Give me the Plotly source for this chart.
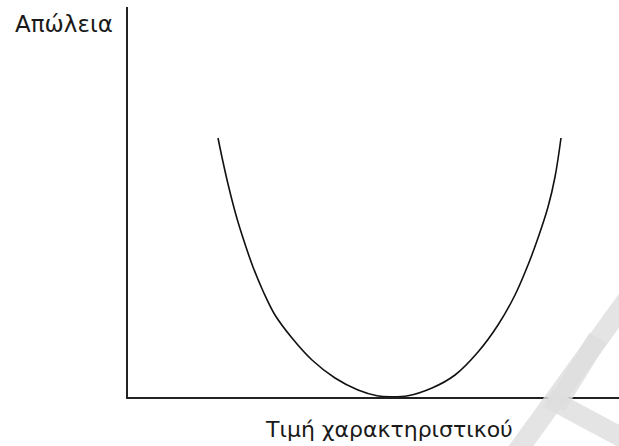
import math
import plotly.graph_objects as go

# Loss curve: characteristic value vs. loss (arbitrary units)
characteristic = [90, 95, 100, 105, 110, 117, 125, 135, 147, 164, 184, 207, 230, 249, 262,
                  280, 304, 327, 350, 370, 387, 400, 410, 420, 427, 433]
loss = [259, 235, 213, 193, 175, 153, 130, 106, 82, 59, 37, 19, 7, 1.3, 0.3,
        1.3, 9, 22, 45, 72, 102, 132, 159, 190, 220, 259]

y_label = "Απώλεια"
x_label = "Τιμή χαρακτηριστικού"

W, H = 619, 446
L, R, T, B = 128, 0, 7, 49
pw, ph = W - L - R, H - T - B


def px(x):
    return (x - L) / pw


def py(y):
    return (H - B - y) / ph


fig = go.Figure()
fig.add_trace(go.Scatter(
    x=characteristic, y=loss, mode="lines",
    line=dict(color="#111111", width=1.6, shape="spline", smoothing=1.0),
    hoverinfo="skip", showlegend=False,
))

axis_common = dict(showgrid=False, zeroline=False, showticklabels=False, ticks="",
                   showline=True, linewidth=2, linecolor="#222222")
fig.update_xaxes(range=[0, pw], **axis_common)
fig.update_yaxes(range=[0, ph], **axis_common)

fig.add_annotation(text=y_label, xref="paper", yref="paper", x=px(115), y=py(24),
                   xanchor="right", yanchor="middle", showarrow=False,
                   font=dict(family="DejaVu Sans", size=23, color="#1a1a1a"))
fig.add_annotation(text=x_label, xref="paper", yref="paper", x=px(389), y=py(430),
                   xanchor="center", yanchor="middle", showarrow=False,
                   font=dict(family="DejaVu Sans", size=22, color="#1a1a1a"))


def band(x0, y0, x1, y1, w):
    """Filled strip of width w (pixels) between two page points."""
    dx, dy = x1 - x0, y1 - y0
    n = math.hypot(dx, dy)
    ox, oy = -dy / n * w / 2, dx / n * w / 2
    pts = [(x0 + ox, y0 + oy), (x1 + ox, y1 + oy), (x1 - ox, y1 - oy), (x0 - ox, y0 - oy)]
    return "M " + " L ".join(f"{px(a):.5f},{py(b):.5f}" for a, b in pts) + " Z"


# faint diagonal watermark strokes in the lower-right corner
wm = "rgba(222,222,222,0.82)"
for (x0, y0, x1, y1) in [(634, 290, 508, 464), (598, 338, 556, 406), (548, 398, 634, 444)]:
    fig.add_shape(type="path", xref="paper", yref="paper", path=band(x0, y0, x1, y1, 20),
                  fillcolor=wm, line=dict(width=0), layer="above")

fig.update_layout(
    width=W, height=H,
    margin=dict(l=L, r=R, t=T, b=B),
    paper_bgcolor="white", plot_bgcolor="white",
)

fig.write_html("out.html")
